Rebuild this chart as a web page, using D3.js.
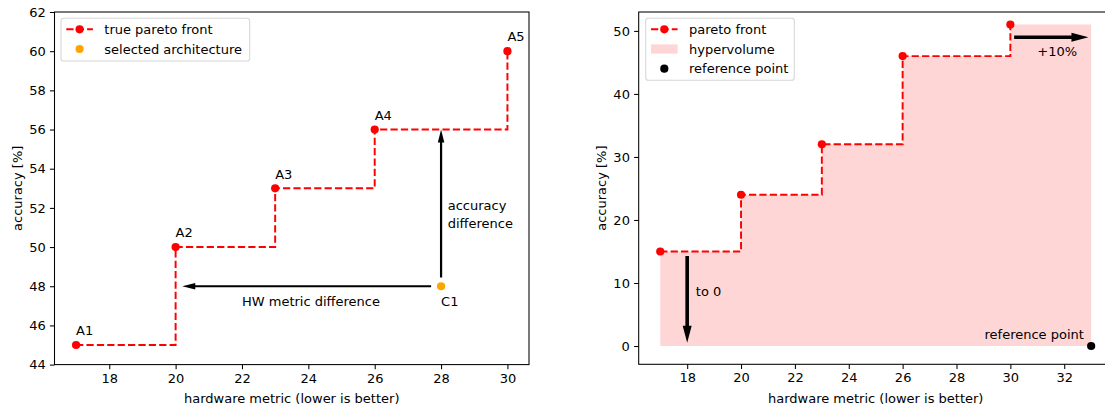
<!DOCTYPE html>
<html>
<head>
<meta charset="utf-8">
<script src="https://cdn.jsdelivr.net/npm/d3@7/dist/d3.min.js"></script>
<style>
  html, body { margin: 0; padding: 0; background: #fff; }
  svg { display: block; }
  text { font-family: "DejaVu Sans", sans-serif; font-size: 13px; fill: #000; }
</style>
</head>
<body>
<svg id="chart" width="1105" height="408"></svg>
<script>
// ---------------- data ----------------
const frontX = [17, 20, 23, 26, 30];
const frontY = [45, 50, 53, 56, 60];
const frontLabels = ["A1", "A2", "A3", "A4", "A5"];
const selectedX = [28];
const selectedY = [48];
const selectedLabels = ["C1"];

const hvX = [17, 20, 23, 26, 30];
const hvY = [15, 24, 32, 46, 51];
const refX = [33];
const refY = [0];

const leftXTicks = [18, 20, 22, 24, 26, 28, 30];
const leftYTicks = [44, 46, 48, 50, 52, 54, 56, 58, 60, 62];
const rightXTicks = [18, 20, 22, 24, 26, 28, 30, 32];
const rightYTicks = [0, 10, 20, 30, 40, 50];

// arrows (data units): [x1, y1, x2, y2]
const leftArrows = [[27.7, 48, 20.2, 48], [28, 48.45, 28, 56]];
const rightArrows = [[18, 14.3, 18, 0.5], [30.14, 49, 32.9, 49]];

// ---------------- setup ----------------
const svg = d3.select("#chart");
const RED = "#ff0000", ORANGE = "#ffa500", FILL = "#ffd6d6";
const LW = 1.96, R = 4.1, DASH = "7.25,3.14";

function makeAxes(cfg) {
  const g = svg.append("g");
  const x = d3.scaleLinear().domain(cfg.xd).range([cfg.left, cfg.right]);
  const y = d3.scaleLinear().domain(cfg.yd).range([cfg.bottom, cfg.top]);
  const clipId = "clip" + cfg.id;
  svg.append("defs").append("clipPath").attr("id", clipId)
    .append("rect").attr("x", cfg.left - 6).attr("y", cfg.top - 6)
    .attr("width", cfg.right - cfg.left + 12).attr("height", cfg.bottom - cfg.top + 12);
  const plot = g.append("g").attr("clip-path", `url(#${clipId})`);

  const xa = g.append("g").attr("transform", `translate(0,${cfg.bottom})`)
    .call(d3.axisBottom(x).tickValues(cfg.xt).tickSize(4.6).tickPadding(4.2).tickFormat(d3.format("d")));
  const ya = g.append("g").attr("transform", `translate(${cfg.left},0)`)
    .call(d3.axisLeft(y).tickValues(cfg.yt).tickSize(4.6).tickPadding(4.2).tickFormat(d3.format("d")));
  [xa, ya].forEach(a => {
    a.select(".domain").remove();
    a.selectAll("line").attr("stroke", "#000").attr("stroke-width", 1.05);
    a.selectAll("text").attr("fill", "#000").style("font-family", "DejaVu Sans").style("font-size", "13px");
  });

  g.append("text").attr("x", (cfg.left + cfg.right) / 2).attr("y", 403)
    .attr("text-anchor", "middle").text("hardware metric (lower is better)");
  g.append("text").attr("transform", `translate(${cfg.left - 37.5},${(cfg.top + cfg.bottom) / 2}) rotate(-90)`)
    .attr("text-anchor", "middle").attr("dy", "0.35em").text("accuracy [%]");

  return { g, plot, x, y, cfg };
}

function drawSpines(ax) {
  const c = ax.cfg;
  ax.g.append("rect").attr("x", c.left).attr("y", c.top)
    .attr("width", c.right - c.left).attr("height", c.bottom - c.top)
    .attr("fill", "none").attr("stroke", "#000").attr("stroke-width", 1.05);
}

function arrow(g, x, y, a, w, hw, hl) {
  const x1 = x(a[0]), y1 = y(a[1]), x2 = x(a[2]), y2 = y(a[3]);
  const dx = x2 - x1, dy = y2 - y1, L = Math.hypot(dx, dy);
  const ux = dx / L, uy = dy / L, px = -uy, py = ux;
  const bx = x2 - ux * hl, by = y2 - uy * hl;
  const pts = [
    [x1 + px * w / 2, y1 + py * w / 2],
    [bx + px * w / 2, by + py * w / 2],
    [bx + px * hw / 2, by + py * hw / 2],
    [x2, y2],
    [bx - px * hw / 2, by - py * hw / 2],
    [bx - px * w / 2, by - py * w / 2],
    [x1 - px * w / 2, y1 - py * w / 2]
  ];
  g.append("polygon").attr("points", pts.map(p => p.join(",")).join(" ")).attr("fill", "#000");
}

function legend(g, box, items) {
  g.append("rect").attr("x", box[0]).attr("y", box[1]).attr("width", box[2]).attr("height", box[3])
    .attr("rx", 2.6).attr("fill", "rgba(255,255,255,0.8)").attr("stroke", "#d6d6d6").attr("stroke-width", 1.05);
  items.forEach((it, i) => {
    const cy = box[1] + 11 + i * 19.7;
    const lx = box[0] + 5.3;
    if (it.type === "line") {
      g.append("line").attr("x1", lx).attr("x2", lx + 26.6).attr("y1", cy).attr("y2", cy)
        .attr("stroke", RED).attr("stroke-width", LW).attr("stroke-dasharray", DASH);
      g.append("circle").attr("cx", lx + 13.3).attr("cy", cy).attr("r", R).attr("fill", RED);
    } else if (it.type === "dot") {
      g.append("circle").attr("cx", lx + 13.3).attr("cy", cy).attr("r", R).attr("fill", it.color);
    } else if (it.type === "patch") {
      g.append("rect").attr("x", lx).attr("y", cy - 4.6).attr("width", 26.6).attr("height", 9.2).attr("fill", FILL);
    }
    g.append("text").attr("x", lx + 38).attr("y", cy).attr("dy", "0.35em").text(it.label);
  });
}

// ---------------- left ----------------
const L = makeAxes({ id: "L", left: 54.5, right: 529, top: 12, bottom: 364.6,
  xd: [16.35, 30.65], yd: [44, 62], xt: leftXTicks, yt: leftYTicks });
{
  const { plot, x, y, g } = L;
  const pts = frontX.map((v, i) => [v, frontY[i]]);
  const line = d3.line().x(d => x(d[0])).y(d => y(d[1])).curve(d3.curveStepAfter);
  plot.append("path").attr("d", line(pts)).attr("fill", "none").attr("stroke", RED)
    .attr("stroke-width", LW).attr("stroke-dasharray", DASH);
  plot.selectAll(".pf").data(pts).join("circle").attr("cx", d => x(d[0])).attr("cy", d => y(d[1]))
    .attr("r", R).attr("fill", RED);
  plot.selectAll(".sel").data(selectedX).join("circle").attr("cx", d => x(d)).attr("cy", (d, i) => y(selectedY[i]))
    .attr("r", R).attr("fill", ORANGE);
  g.selectAll(".lab").data(pts).join("text").attr("x", d => x(d[0])).attr("y", d => y(d[1] + 0.5))
    .text((d, i) => frontLabels[i]);
  g.selectAll(".sl").data(selectedX).join("text").attr("x", d => x(d)).attr("y", (d, i) => y(selectedY[i] - 1))
    .text((d, i) => selectedLabels[i]);
  leftArrows.forEach(a => arrow(g, x, y, a, 2.2, 6.5, 13));
  g.append("text").attr("x", x(22)).attr("y", y(47)).text("HW metric difference");
  const t = g.append("text").attr("x", x(28.2)).attr("y", y(51.9));
  t.append("tspan").attr("x", x(28.2)).text("accuracy");
  t.append("tspan").attr("x", x(28.2)).attr("dy", 18).text("difference");
  drawSpines(L);
  legend(g, [61, 18.3, 188.7, 42.7], [
    { type: "line", label: "true pareto front" },
    { type: "dot", color: ORANGE, label: "selected architecture" }
  ]);
}

// ---------------- right ----------------
const Rax = makeAxes({ id: "R", left: 638.7, right: 1112.7, top: 12, bottom: 364.3,
  xd: [16.2, 33.8], yd: [-2.9, 53], xt: rightXTicks, yt: rightYTicks });
{
  const { plot, x, y, g } = Rax;
  const pts = hvX.map((v, i) => [v, hvY[i]]);
  const areaPts = pts.concat([[refX[0], hvY[hvY.length - 1]]]);
  const area = d3.area().x(d => x(d[0])).y0(y(refY[0])).y1(d => y(d[1])).curve(d3.curveStepAfter);
  plot.append("path").attr("d", area(areaPts)).attr("fill", FILL);
  const line = d3.line().x(d => x(d[0])).y(d => y(d[1])).curve(d3.curveStepAfter);
  plot.append("path").attr("d", line(pts)).attr("fill", "none").attr("stroke", RED)
    .attr("stroke-width", LW).attr("stroke-dasharray", DASH);
  plot.selectAll(".pf").data(pts).join("circle").attr("cx", d => x(d[0])).attr("cy", d => y(d[1]))
    .attr("r", R).attr("fill", RED);
  plot.selectAll(".ref").data(refX).join("circle").attr("cx", d => x(d)).attr("cy", (d, i) => y(refY[i]))
    .attr("r", R).attr("fill", "#000");
  rightArrows.forEach(a => arrow(g, x, y, a, 3.6, 9, 17));
  g.append("text").attr("x", x(18.32)).attr("y", y(8)).text("to 0");
  g.append("text").attr("x", x(31)).attr("y", y(46)).text("+10%");
  g.append("text").attr("x", x(32.73)).attr("y", y(1.05)).attr("text-anchor", "end").text("reference point");
  drawSpines(Rax);
  legend(g, [645.7, 18.3, 148.6, 62], [
    { type: "line", label: "pareto front" },
    { type: "patch", label: "hypervolume" },
    { type: "dot", color: "#000", label: "reference point" }
  ]);
}
</script>
</body>
</html>
